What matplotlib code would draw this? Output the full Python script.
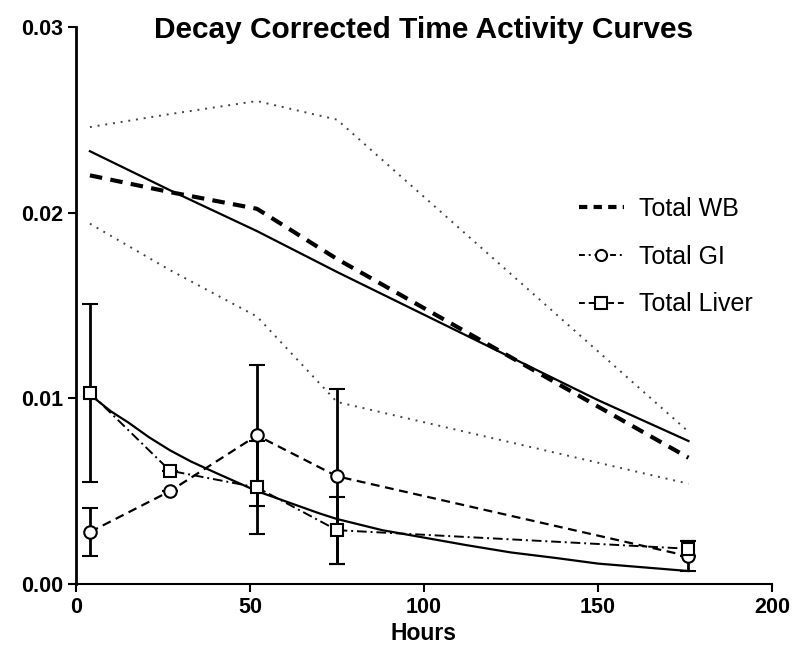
import matplotlib.pyplot as plt
from matplotlib.lines import Line2D

plt.rcParams['font.family'] = ['Liberation Sans', 'DejaVu Sans']

# sample times (hours)
hours = [4, 27, 52, 75, 176]

# whole body (no error bars)
wb_mean = [0.0220, 0.0211, 0.0202, 0.0175, 0.0068]
wb_upper = [0.0246, 0.0253, 0.0260, 0.0250, 0.0082]
wb_lower = [0.0194, 0.0169, 0.0144, 0.0098, 0.0054]

# GI and liver with SD
gi_mean = [0.0028, 0.0050, 0.0080, 0.0058, 0.0015]
gi_sd = [0.0013, 0.0, 0.0038, 0.0047, 0.0008]
liver_mean = [0.0103, 0.0061, 0.0052, 0.0029, 0.0019]
liver_sd = [0.0048, 0.0, 0.0025, 0.0018, 0.0004]

# fitted curves
wb_fit_hours = [4, 27, 52, 75, 100, 125, 150, 176]
wb_fit = [0.0233, 0.0212, 0.0190, 0.0168, 0.0145, 0.0122, 0.0099, 0.0077]
liver_fit_hours = [4, 10, 15, 21, 27, 33, 40, 46, 52, 58, 64, 70, 75, 88, 100, 112, 125, 138, 150, 163, 176]
liver_fit = [0.0102, 0.0093, 0.0087, 0.0079, 0.0072, 0.0066, 0.0060, 0.0055, 0.0050,
             0.0046, 0.0042, 0.0038, 0.0035, 0.0029, 0.0025, 0.0021, 0.0017, 0.0014,
             0.0011, 0.0009, 0.0007]

fig = plt.figure(figsize=(8, 6.69), dpi=100)
ax = fig.add_axes([0.095, 0.127, 0.870, 0.833])

ax.plot(hours, wb_upper, color='#444444', lw=1.4, ls=(0, (1, 3)))
ax.plot(hours, wb_lower, color='#444444', lw=1.4, ls=(0, (1, 3)))
ax.plot(wb_fit_hours, wb_fit, color='black', lw=1.6)
ax.plot(liver_fit_hours, liver_fit, color='black', lw=1.6)

ax.plot(hours, wb_mean, color='black', lw=3, ls=(0, (3, 2)))
ax.errorbar(hours, gi_mean, yerr=gi_sd, color='black', lw=1.6, ls=(0, (4, 2.5)),
            marker='o', ms=9, mfc='white', mec='black', mew=1.5,
            ecolor='black', elinewidth=2, capsize=6, capthick=2)
ax.errorbar(hours, liver_mean, yerr=liver_sd, color='black', lw=1.4, ls=(0, (5, 2, 1, 2)),
            marker='s', ms=9, mfc='white', mec='black', mew=1.5,
            ecolor='black', elinewidth=2, capsize=6, capthick=2)

ax.set_xlim(0, 200)
ax.set_ylim(0, 0.03)
ax.set_xticks([0, 50, 100, 150, 200])
ax.set_yticks([0, 0.01, 0.02, 0.03])
ax.set_yticklabels(['0.00', '0.01', '0.02', '0.03'])
ax.tick_params(direction='out', length=6, width=1.5, labelsize=15.5, pad=3)
for lab in ax.get_xticklabels() + ax.get_yticklabels():
    lab.set_fontweight('bold')
ax.spines['top'].set_visible(False)
ax.spines['right'].set_visible(False)
ax.spines['left'].set_linewidth(2)
ax.spines['bottom'].set_linewidth(1.5)

fig.text(0.53, 0.955, 'Decay Corrected Time Activity Curves', fontsize=21.5,
         fontweight='bold', ha='center', va='center')
ax.set_xlabel('Hours', fontsize=16.5, fontweight='bold', labelpad=3)

handles = [
    Line2D([], [], color='black', lw=3, ls=(0, (2, 1.5))),
    Line2D([], [], color='black', lw=1.4, ls=(0, (3, 2, 1, 2)), marker='o', ms=8,
           mfc='white', mec='black', mew=1.5),
    Line2D([], [], color='black', lw=1.4, ls=(0, (3, 2)), marker='s', ms=8,
           mfc='white', mec='black', mew=1.5),
]
ax.legend(handles, ['Total WB', 'Total GI', 'Total Liver'], loc='upper left',
          bbox_to_anchor=(0.69, 0.735), frameon=False, fontsize=18,
          handlelength=1.8, handletextpad=0.6, labelspacing=0.95)

fig.savefig('out.png', dpi=100)
